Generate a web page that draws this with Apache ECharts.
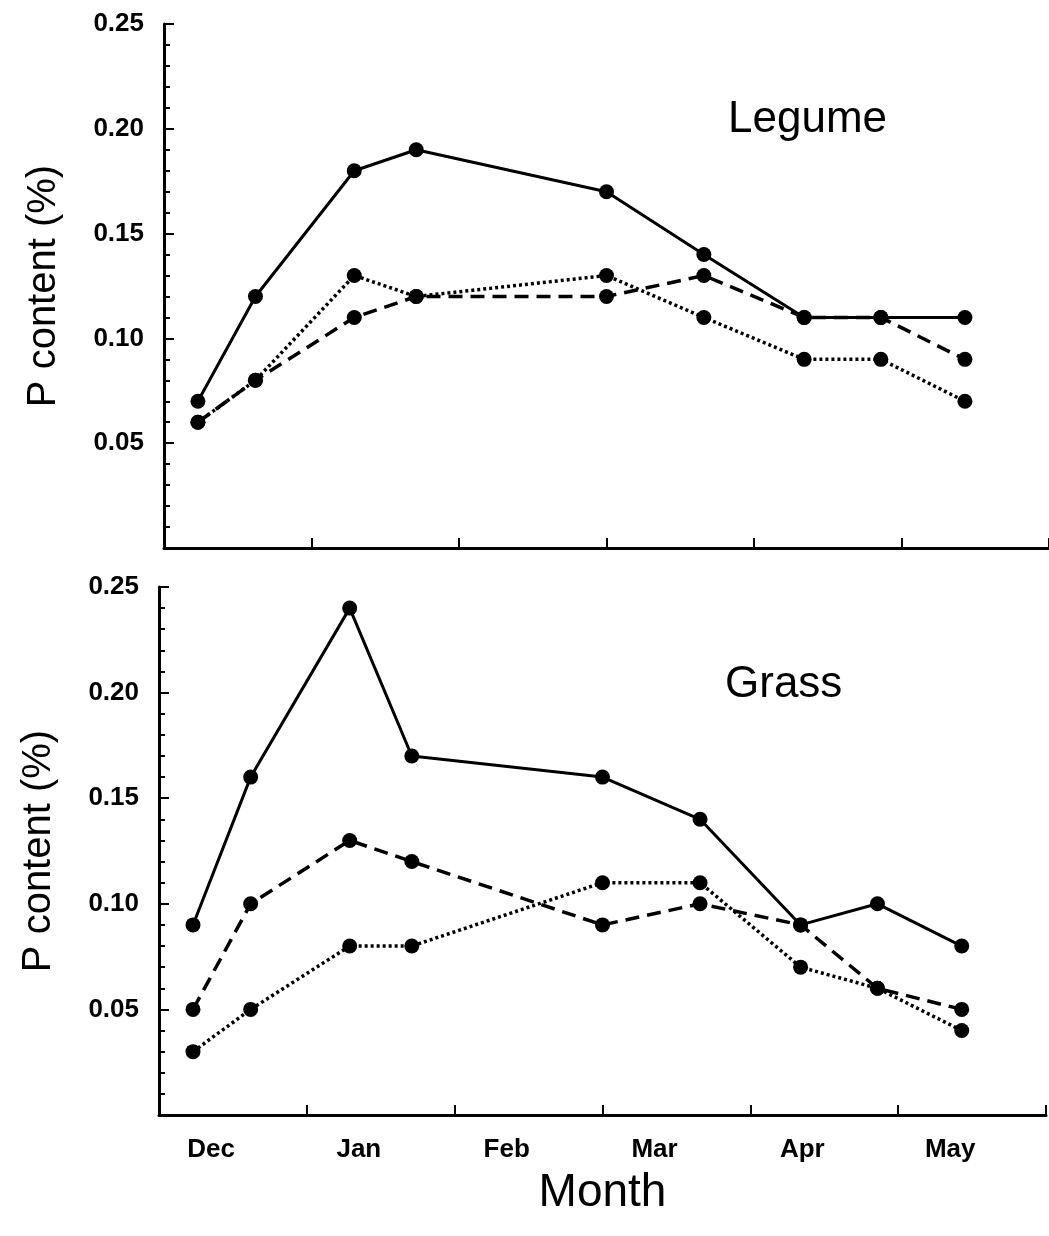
<!DOCTYPE html>
<html><head><meta charset="utf-8">
<script src="https://cdn.jsdelivr.net/npm/echarts@6/dist/echarts.min.js"></script>
<style>html,body{margin:0;padding:0;background:#fff}#c{width:1049px;height:1236px}</style>
</head><body><div id="c"></div>
<script>
// Sampling times, in months from 1 Dec
var sampleMonths = [0.23, 0.62, 1.29, 1.71, 3.0, 3.66, 4.34, 4.86, 5.43];
var monthLabels = ['Dec', 'Jan', 'Feb', 'Mar', 'Apr', 'May'];
var yTicks = [0.05, 0.10, 0.15, 0.20, 0.25];

var legumeSolid  = [0.07, 0.12, 0.18, 0.19, 0.17, 0.14, 0.11, 0.11, 0.11];
var legumeDashed = [0.06, 0.08, 0.11, 0.12, 0.12, 0.13, 0.11, 0.11, 0.09];
var legumeDotted = [0.06, 0.08, 0.13, 0.12, 0.13, 0.11, 0.09, 0.09, 0.07];

var grassSolid  = [0.09, 0.16, 0.24, 0.17, 0.16, 0.14, 0.09, 0.10, 0.08];
var grassDashed = [0.05, 0.10, 0.13, 0.12, 0.09, 0.10, 0.09, 0.06, 0.05];
var grassDotted = [0.03, 0.05, 0.08, 0.08, 0.11, 0.11, 0.07, 0.06, 0.04];

function pairs(vals) { return sampleMonths.map(function (m, i) { return [m, vals[i]]; }); }

var FONT = 'Liberation Sans, Arial, Helvetica, sans-serif';
var axisLine = { lineStyle: { color: '#000', width: 3 } };

function yAxis(gridIndex) {
  return {
    type: 'value', gridIndex: gridIndex, min: 0, max: 0.25, interval: 0.05,
    axisLine: { show: true, lineStyle: { color: '#000', width: 3 } },
    axisTick: { show: true, inside: true, length: 10, lineStyle: { color: '#000', width: 2 } },
    minorTick: { show: true, splitNumber: 5, length: 6, lineStyle: { color: '#000', width: 2 } },
    splitLine: { show: false },
    axisLabel: {
      color: '#000', fontFamily: FONT, fontWeight: 'bold', fontSize: 26, margin: 20,
      formatter: function (v) { return yTicks.some(function (t) { return Math.abs(t - v) < 1e-9; }) ? v.toFixed(2) : ''; }
    },
    name: 'P content (%)', nameLocation: 'middle', nameGap: 100, nameRotate: 90,
    nameTextStyle: { color: '#000', fontFamily: FONT, fontSize: 40 }
  };
}

function xAxis(gridIndex, showLabels) {
  var ax = {
    type: 'value', gridIndex: gridIndex, min: 0, max: 6, interval: 1,
    axisLine: axisLine,
    axisTick: { show: true, inside: true, length: 10, lineStyle: { color: '#000', width: 2 } },
    splitLine: { show: false },
    axisLabel: { show: showLabels }
  };
  if (showLabels) {
    ax.axisLabel = {
      show: true, color: '#000', fontFamily: FONT, fontWeight: 'bold', fontSize: 26, margin: 22,
      padding: [0, 0, 0, 104],
      formatter: function (v) { return monthLabels[Math.round(v)] || ''; }
    };
    ax.name = 'Month';
    ax.nameLocation = 'middle';
    ax.nameGap = 55;
    ax.nameTextStyle = { color: '#000', fontFamily: FONT, fontSize: 46, verticalAlign: 'top' };
  }
  return ax;
}

function line(name, vals, idx, type, width) {
  return {
    name: name, type: 'line', xAxisIndex: idx, yAxisIndex: idx, data: pairs(vals),
    symbol: 'circle', symbolSize: 15, itemStyle: { color: '#000' },
    lineStyle: { color: '#000', width: width, type: type },
    animation: false, z: 3
  };
}

var chart = echarts.init(document.getElementById('c'), null, { renderer: 'canvas' });
chart.setOption({
  backgroundColor: '#fff',
  animation: false,
  title: [
    { text: 'Legume', left: 728, top: 98, padding: 0, textStyle: { fontFamily: FONT, fontSize: 44, fontWeight: 'normal', color: '#000' } },
    { text: 'Grass', left: 725, top: 663, padding: 0, textStyle: { fontFamily: FONT, fontSize: 44, fontWeight: 'normal', color: '#000' } }
  ],
  grid: [
    { left: 164, top: 24, width: 893, height: 524 },
    { left: 159, top: 587, width: 894, height: 528 }
  ],
  xAxis: [xAxis(0, false), xAxis(1, true)],
  yAxis: [yAxis(0), yAxis(1)],
  series: [
    line('Legume solid', legumeSolid, 0, 'solid', 3),
    line('Legume dashed', legumeDashed, 0, [14, 8], 3.5),
    line('Legume dotted', legumeDotted, 0, [3, 3], 3.5),
    line('Grass solid', grassSolid, 1, 'solid', 3),
    line('Grass dashed', grassDashed, 1, [14, 8], 3.5),
    line('Grass dotted', grassDotted, 1, [3, 3], 3.5)
  ]
});
</script>
</body></html>
